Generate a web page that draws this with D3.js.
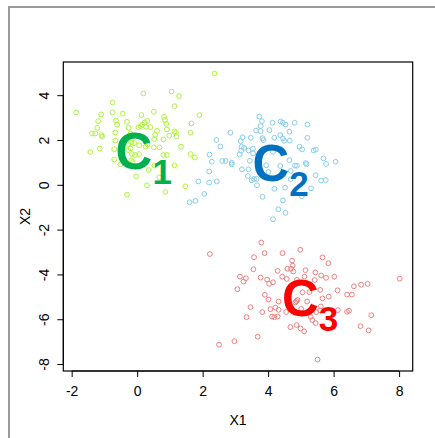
<!DOCTYPE html>
<html><head><meta charset="utf-8">
<script src="https://cdn.jsdelivr.net/npm/d3@7"></script>
<style>
html,body{margin:0;padding:0;background:#fff;}
svg{display:block;font-family:"Liberation Sans",Arial,Helvetica,sans-serif;}
</style></head>
<body>
<svg id="chart" width="435" height="438"></svg>
<script>
// ---- data ----
const cluster1X = [2.36,0.19,1.05,1.28,-0.75,1.14,-1.86,-1.10,-0.75,-0.44,0.13,0.51,0.82,1.90,-1.19,-0.65,-0.61,-0.31,0.31,0.85,0.89,1.66,-1.22,-0.26,0.04,0.11,0.16,0.23,0.27,0.40,0.91,-1.38,-1.28,-1.09,-1.07,-0.67,-0.20,0.61,1.14,1.18,1.20,1.63,0.55,0.52,0.98,0.80,-0.67,0.32,-0.27,-0.18,-0.09,0.06,-1.43,-1.14,-0.70,0.26,0.51,0.68,1.34,-0.20,-0.28,-0.16,-0.06,0.06,0.80,0.91,1.63,1.76,-0.70,-0.51,-0.18,-0.13,0.53,1.14,-0.03,0.35,0.68,0.30,1.47,-0.31,0.86];
const cluster1Y = [4.97,4.08,4.16,3.96,3.67,3.51,3.23,3.14,3.23,3.18,3.11,3.26,3.03,3.11,2.84,2.87,2.69,2.81,2.85,2.89,2.72,2.74,2.54,2.54,2.57,2.62,2.69,2.78,2.59,2.57,2.47,2.29,2.29,2.22,2.15,2.34,2.29,2.41,2.38,2.32,2.16,2.32,2.22,2.04,2.19,2.03,1.97,1.80,1.83,1.89,1.86,1.77,1.46,1.62,1.59,1.70,1.67,1.67,1.70,1.62,1.55,1.37,1.33,1.37,1.33,1.33,1.37,1.22,1.13,0.91,1.10,1.01,0.86,0.87,0.38,0.66,0.33,-0.02,-0.07,-0.44,-0.32];

const cluster2X = [3.73,3.81,3.77,3.77,3.63,4.13,4.38,4.45,4.53,4.81,5.20,4.04,4.65,2.85,3.22,3.16,3.47,3.83,3.86,4.19,4.37,4.45,4.49,4.66,5.20,2.42,2.54,3.19,3.27,3.18,3.40,3.54,3.54,3.13,4.96,5.04,5.39,5.46,2.21,2.28,2.60,2.70,2.89,2.89,3.44,3.94,4.01,4.37,4.65,4.82,4.88,5.15,5.17,5.69,5.77,6.06,3.20,3.40,2.20,3.38,3.57,3.65,3.50,3.66,4.69,4.69,5.45,5.31,5.62,5.76,1.87,2.20,2.43,4.19,4.52,5.03,2.05,1.60,1.78,3.83,4.45,4.31,4.53,4.15,4.15];
const cluster2Y = [3.04,2.84,2.62,2.40,2.42,2.77,2.83,2.77,2.69,2.77,2.69,2.44,2.37,2.32,2.12,1.95,2.10,2.08,2.00,2.10,2.22,2.07,1.96,1.97,2.10,2.00,1.71,1.70,1.65,1.53,1.53,1.62,1.40,1.35,1.70,1.58,1.53,1.57,1.35,1.03,1.06,1.06,0.98,0.91,1.07,0.87,0.57,0.84,1.10,0.86,0.85,0.97,0.92,1.18,0.93,1.03,0.69,0.69,0.59,0.39,0.26,0.26,0.20,-0.02,0.62,0.25,0.43,-0.16,0.19,0.21,0.15,0.10,0.15,-0.18,-0.13,-0.51,-0.41,-0.78,-0.72,-0.54,-0.70,-1.09,-1.25,-1.54,1.47];

const cluster3X = [3.79,2.22,3.57,3.89,4.44,4.98,5.66,5.84,4.73,4.75,4.70,3.55,4.29,4.59,4.77,5.14,5.44,3.14,3.32,3.25,3.77,3.97,4.03,4.15,4.43,4.57,4.88,5.11,5.42,5.62,5.77,6.02,3.06,6.12,6.62,6.84,7.04,6.41,6.56,8.02,3.90,4.01,5.05,5.26,5.59,5.66,5.85,4.32,4.90,4.86,4.83,5.19,3.46,4.07,4.22,4.32,3.82,4.55,5.01,5.61,5.59,5.47,6.13,6.41,6.47,7.15,3.34,4.12,4.19,4.29,5.30,5.35,5.45,4.68,4.87,4.99,5.10,6.82,7.07,3.68,2.97,2.50,5.51];
const cluster3Y = [-2.58,-3.09,-3.23,-3.05,-3.05,-2.90,-3.24,-3.50,-3.38,-3.61,-3.75,-3.77,-3.84,-3.75,-3.87,-3.81,-3.91,-4.10,-4.17,-4.32,-4.14,-4.23,-4.42,-4.35,-4.10,-4.20,-4.24,-4.10,-4.25,-4.05,-4.15,-4.10,-4.66,-4.71,-4.53,-4.46,-4.42,-4.90,-4.90,-4.19,-4.91,-5.12,-4.80,-4.79,-4.69,-5.07,-4.99,-5.21,-5.14,-5.19,-5.25,-5.21,-5.46,-5.55,-5.48,-5.58,-5.68,-5.68,-5.54,-5.43,-5.61,-5.68,-5.59,-5.67,-5.62,-5.82,-5.91,-5.88,-5.91,-5.88,-5.89,-6.04,-6.17,-6.35,-6.26,-6.41,-6.54,-6.31,-6.50,-6.78,-6.98,-7.14,-7.80];

const clusterNames = ["C1","C2","C3"];
const labelMain = ["C","C","C"];
const labelSub = ["1","2","3"];
const labelX = [0.20, 4.38, 5.28];
const labelY = [1.50, 0.99, -5.07];

const xTicks = [-2,0,2,4,6,8];
const yTicks = [-8,-6,-4,-2,0,2,4];
const xTitle = "X1";
const yTitle = "X2";

// ---- styles ----
const pointColors = ["#adf53a","#87ceeb","#f08080"];
const labelColors = ["#00b050","#0070c0","#ff0000"];

const W = 435, H = 438;
const plot = {left:63.3, right:412.7, top:62, bottom:371};

const svg = d3.select("#chart");

// outer frame (partly outside the window)
svg.append("rect").attr("x",9).attr("y",7).attr("width",440).attr("height",440)
  .attr("fill","none").attr("stroke","#9a9a9a").attr("stroke-width",2);

const sets = [
  {x:cluster1X, y:cluster1Y},
  {x:cluster2X, y:cluster2Y},
  {x:cluster3X, y:cluster3Y}
];
const allX = [].concat(cluster1X, cluster2X, cluster3X);
const allY = [].concat(cluster1Y, cluster2Y, cluster3Y);
function rdomain(a){ const lo=d3.min(a), hi=d3.max(a), p=(hi-lo)*0.04; return [lo-p, hi+p]; }

const x = d3.scaleLinear().domain(rdomain(allX)).range([plot.left, plot.right]);
const y = d3.scaleLinear().domain(rdomain(allY)).range([plot.bottom, plot.top]);

// points
sets.forEach((s,i) => {
  const pts = s.x.map((v,j) => [v, s.y[j]]);
  svg.append("g").selectAll("circle").data(pts).join("circle")
    .attr("cx", d => x(d[0])).attr("cy", d => y(d[1])).attr("r", 2.4)
    .attr("fill","none").attr("stroke", pointColors[i]).attr("stroke-width", 1);
});

// cluster labels
clusterNames.forEach((n,i) => {
  const t = svg.append("text")
    .attr("x", x(labelX[i])).attr("y", y(labelY[i]) + 18)
    .attr("text-anchor","middle").attr("fill", labelColors[i])
    .attr("font-weight","bold").attr("font-size", 51);
  t.append("tspan").text(labelMain[i]);
  t.append("tspan").attr("font-size", 35).attr("dy", 15).text(labelSub[i]);
});

// box
svg.append("rect").attr("x",plot.left).attr("y",plot.top)
  .attr("width",plot.right-plot.left).attr("height",plot.bottom-plot.top)
  .attr("fill","none").attr("stroke","#000").attr("stroke-width",1.2);

// x axis
const gx = svg.append("g").attr("transform",`translate(0,${plot.bottom})`)
  .call(d3.axisBottom(x).tickValues(xTicks).tickSize(6).tickPadding(9).tickFormat(d => String(d)));
gx.select(".domain").remove();
gx.selectAll("line").attr("stroke","#000");
gx.selectAll("text").attr("font-size",14).attr("fill","#000").attr("font-family",null);
gx.append("line").attr("x1",x(xTicks[0])).attr("x2",x(xTicks[xTicks.length-1]))
  .attr("y1",0).attr("y2",0).attr("stroke","#000");

// y axis
const gy = svg.append("g").attr("transform",`translate(${plot.left},0)`)
  .call(d3.axisLeft(y).tickValues(yTicks).tickSize(6).tickFormat(d => String(d)));
gy.select(".domain").remove();
gy.selectAll("line").attr("stroke","#000");
gy.selectAll("text").attr("font-size",14).attr("fill","#000").attr("font-family",null)
  .attr("x",0).attr("dy",0).attr("text-anchor","middle")
  .attr("transform",`translate(${48.5-plot.left},0) rotate(-90)`);
gy.append("line").attr("y1",y(yTicks[0])).attr("y2",y(yTicks[yTicks.length-1]))
  .attr("x1",0).attr("x2",0).attr("stroke","#000");

// titles
svg.append("text").attr("x",(plot.left+plot.right)/2).attr("y",424.5)
  .attr("text-anchor","middle").attr("font-size",14).text(xTitle);
svg.append("text").attr("transform",`translate(30,${(plot.top+plot.bottom)/2}) rotate(-90)`)
  .attr("text-anchor","middle").attr("font-size",14).text(yTitle);
</script>
</body></html>
